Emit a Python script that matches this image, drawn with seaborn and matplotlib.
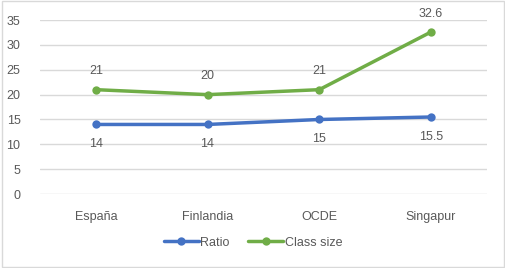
import pandas as pd
import seaborn as sns
import matplotlib.pyplot as plt
from matplotlib.patches import Rectangle

countries = ['España', 'Finlandia', 'OCDE', 'Singapur']
ratio = [14, 14, 15, 15.5]
class_size = [21, 20, 21, 32.6]
ratio_labels = ['14', '14', '15', '15.5']
class_labels = ['21', '20', '21', '32.6']

df = pd.DataFrame({
    'country': countries * 2,
    'value': ratio + class_size,
    'series': ['Ratio'] * 4 + ['Class size'] * 4,
})

palette = {'Ratio': '#4472C4', 'Class size': '#70AD47'}
text_col = '#595959'

sns.set_style('white')
plt.rcParams['font.family'] = ['Liberation Sans', 'DejaVu Sans']

fig = plt.figure(figsize=(5.06, 2.68), dpi=100)
ax = fig.add_axes([0.079, 0.276, 0.883, 0.649])

sns.lineplot(data=df, x='country', y='value', hue='series', palette=palette,
             marker='o', markersize=6, markeredgewidth=0, linewidth=2.5,
             sort=False, ax=ax, legend=False)

for i, (v, lab) in enumerate(zip(ratio, ratio_labels)):
    ax.annotate(lab, (i, v), xytext=(0, -10), textcoords='offset points',
                ha='center', va='top', fontsize=9, color=text_col)
for i, (v, lab) in enumerate(zip(class_size, class_labels)):
    ax.annotate(lab, (i, v), xytext=(0, 9), textcoords='offset points',
                ha='center', va='bottom', fontsize=9, color=text_col)

ax.set_ylim(0, 35)
ax.set_yticks(range(0, 36, 5))
ax.set_xlim(-0.5, 3.5)
ax.grid(axis='y', color='#D9D9D9', linewidth=1)
ax.set_axisbelow(True)
for s in ax.spines.values():
    s.set_visible(False)
ax.tick_params(axis='both', length=0, labelsize=9, colors=text_col)
ax.tick_params(axis='x', pad=12)
ax.tick_params(axis='y', pad=14)
ax.set_xlabel('')
ax.set_ylabel('')

handles = [plt.Line2D([], [], color=palette[k], marker='o', markersize=6,
                      markeredgewidth=0, linewidth=2.5) for k in ['Ratio', 'Class size']]
fig.legend(handles, ['Ratio', 'Class size'], loc='center', bbox_to_anchor=(0.5, 0.095),
           ncol=2, frameon=False, fontsize=9, labelcolor=text_col,
           handlelength=2.8, handletextpad=0.1, columnspacing=1.5)

fig.patches.append(Rectangle((0.003, 0.004), 0.994, 0.992, transform=fig.transFigure,
                             fill=False, edgecolor='#D9D9D9', linewidth=1))

fig.savefig('out.png', dpi=100, facecolor='white')
